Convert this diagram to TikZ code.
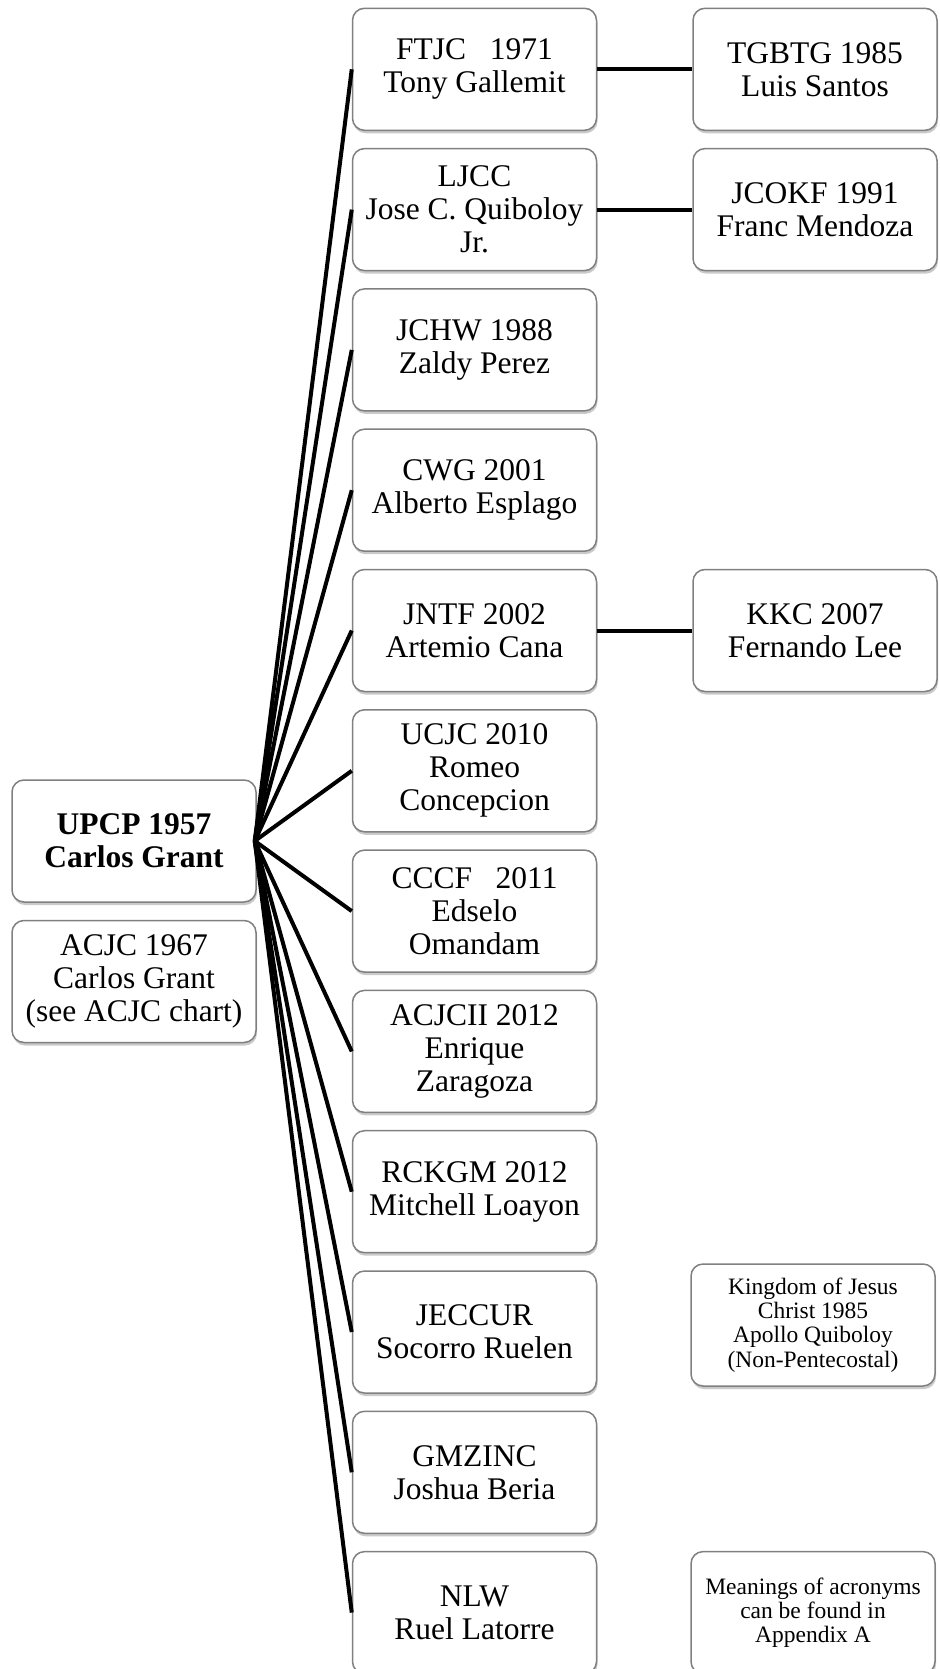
\documentclass[tikz,border=0pt]{standalone}
\usepackage{fontspec}
\setmainfont{Liberation Serif}
\usetikzlibrary{shadows}
\begin{document}
\begin{tikzpicture}[x=1pt,y=-1pt,
  orgbox/.style={rectangle, rounded corners=12pt, draw=black!50, line width=1.5pt, fill=white,
    minimum width=244pt, minimum height=122pt, align=center, inner sep=0pt,
    font=\fontsize{31.5}{33}\selectfont,
    drop shadow={shadow xshift=1pt, shadow yshift=-3pt, opacity=0.35, fill=black!60}},
  smallbox/.style={orgbox, font=\fontsize{23.5}{24.3}\selectfont},
  link/.style={line width=4pt, black}]
\useasboundingbox (0,0) rectangle (939,1669);

\node[orgbox, font=\bfseries\fontsize{31.5}{33}\selectfont] (upcp) at (134,841) {UPCP 1957\\Carlos Grant};
\node[orgbox] (acjc) at (134,981.5) {ACJC 1967\\Carlos Grant\\(see ACJC chart)};

\node[orgbox] (r0) at (474.5,69.3) {FTJC\ \ \ 1971\\Tony Gallemit};
\node[orgbox] (r1) at (474.5,209.6) {LJCC\\Jose C. Quiboloy\\Jr.};
\node[orgbox] (r2) at (474.5,349.9) {JCHW 1988\\Zaldy Perez};
\node[orgbox] (r3) at (474.5,490.2) {CWG 2001\\Alberto Esplago};
\node[orgbox] (r4) at (474.5,630.5) {JNTF 2002\\Artemio Cana};
\node[orgbox] (r5) at (474.5,770.8) {UCJC 2010\\Romeo\\Concepcion};
\node[orgbox] (r6) at (474.5,911.1) {CCCF\ \ \ 2011\\Edselo\\Omandam};
\node[orgbox] (r7) at (474.5,1051.4) {ACJCII 2012\\Enrique\\Zaragoza};
\node[orgbox] (r8) at (474.5,1191.7) {RCKGM 2012\\Mitchell Loayon};
\node[orgbox] (r9) at (474.5,1332.0) {JECCUR\\Socorro Ruelen};
\node[orgbox] (r10) at (474.5,1472.3) {GMZINC\\Joshua Beria};
\node[orgbox] (r11) at (474.5,1612.6) {NLW\\Ruel Latorre};

\node[orgbox] (c0) at (815,69.3) {TGBTG 1985\\Luis Santos};
\node[orgbox] (c1) at (815,209.6) {JCOKF 1991\\Franc Mendoza};
\node[orgbox] (c4) at (815,630.5) {KKC 2007\\Fernando Lee};
\node[smallbox] (kjc) at (813,1325) {Kingdom of Jesus\\Christ 1985\\Apollo Quiboloy\\(Non-Pentecostal)};
\node[smallbox] (note) at (813,1612.6) {Meanings of acronyms\\can be found in\\Appendix A};

\foreach \r in {r0,r1,r2,r3,r4,r5,r6,r7,r8,r9,r10,r11}
  \draw[link] ([xshift=-2pt]upcp.east) -- (\r.west);
\draw[link] (r0.east) -- (c0.west);
\draw[link] (r1.east) -- (c1.west);
\draw[link] (r4.east) -- (c4.west);
\end{tikzpicture}
\end{document}
